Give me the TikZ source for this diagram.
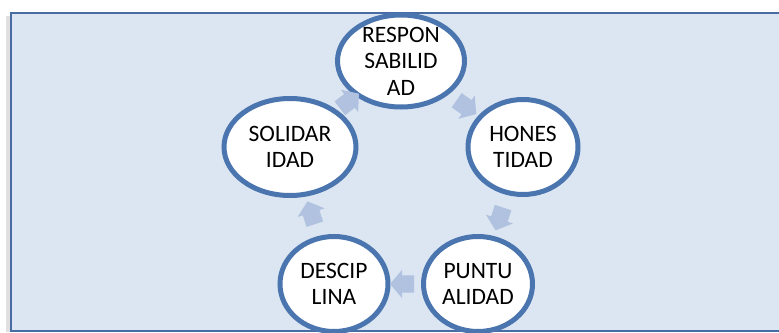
\documentclass[tikz,border=0pt]{standalone}
\usepackage{fontspec}
\setmainfont{Carlito}
\usetikzlibrary{shapes.geometric,shapes.arrows}
\definecolor{paneblue}{RGB}{220,230,242}
\definecolor{panerule}{RGB}{72,108,163}
\definecolor{ringblue}{RGB}{74,117,175}
\definecolor{flowblue}{RGB}{176,194,223}

\begin{document}
\begin{tikzpicture}[x=1pt,y=-1pt,
    value/.style={ellipse,draw=ringblue,line width=5pt,fill=white,inner sep=0pt},
    word/.style={align=center,font=\fontsize{23.5}{26.5}\selectfont},
    flow/.style={single arrow,fill=flowblue,inner xsep=0pt,inner ysep=8.5pt,
      minimum width=28pt,minimum height=24pt,single arrow head extend=5.5pt,
      single arrow tip angle=100,sloped,allow upside down}]

  \useasboundingbox (0,0) rectangle (779,332);
  \fill[black!12] (6,16) rectangle (11,332);
  \filldraw[fill=paneblue,draw=panerule,line width=2pt] (11,13) rectangle (800,331);

  \node[value,minimum width=127pt,minimum height=92pt] (res) at (401,61)
    [label={[word]center:RESPON\\SABILID\\AD}] {};
  \node[value,minimum width=110pt,minimum height=95pt] (hon) at (523,147)
    [label={[word]center:HONES\\TIDAD}] {};
  \node[value,minimum width=109pt,minimum height=95pt] (pun) at (478,284)
    [label={[word]center:PUNTU\\ALIDAD}] {};
  \node[value,minimum width=108pt,minimum height=95pt] (des) at (334,284)
    [label={[word]center:DESCIP\\LINA}] {};
  \node[value,minimum width=132pt,minimum height=97pt] (sol) at (290,147)
    [label={[word]center:SOLIDAR\\IDAD}] {};

  \path (sol) -- (res) node[flow,midway] (f1) {};
  \path (res) -- (hon) node[flow,midway] (f2) {};
  \path (hon) -- (pun) node[flow,midway] (f3) {};
  \path (pun) -- (des) node[flow,midway] (f4) {};
  \path (des) -- (sol) node[flow,midway] (f5) {};
\end{tikzpicture}
\end{document}
